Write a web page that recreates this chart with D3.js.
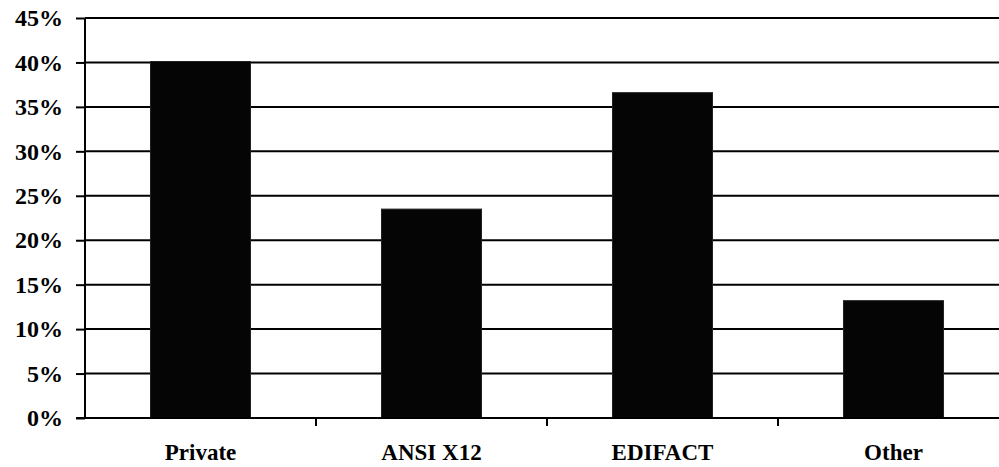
<!DOCTYPE html>
<html>
<head>
<meta charset="utf-8">
<script src="https://cdn.jsdelivr.net/npm/d3@7"></script>
<style>
  body { margin: 0; background: #fff; }
  svg { display: block; }
  text { font-family: "Liberation Serif", "DejaVu Serif", serif; font-weight: bold; fill: #000; }
</style>
</head>
<body>
<svg></svg>
<script>
let categories = ["Private", "ANSI X12", "EDIFACT", "Other"];
let shares = [40.1, 23.5, 36.6, 13.2];
let yTicks = [0, 5, 10, 15, 20, 25, 30, 35, 40, 45];

let width = 999;
let height = 467;
let plotLeft = 85;
let plotTop = 18;
let plotBottom = 418;

let svg = d3.select("svg").attr("width", width).attr("height", height);

let xScale = d3.scaleBand()
    .domain(categories)
    .range([plotLeft, plotLeft + 924])
    .paddingInner(0.567)
    .paddingOuter(0.2835);

let yScale = d3.scaleLinear()
    .domain([0, 45])
    .range([plotBottom, plotTop]);

// gridlines
svg.append("g")
    .selectAll("line")
    .data(yTicks.slice(1))
    .enter()
    .append("line")
    .attr("x1", plotLeft)
    .attr("x2", width)
    .attr("y1", d => yScale(d))
    .attr("y2", d => yScale(d))
    .attr("stroke", "#000")
    .attr("stroke-width", 2);

// bars
svg.append("g")
    .selectAll("rect")
    .data(shares)
    .enter()
    .append("rect")
    .attr("x", (d, i) => xScale(categories[i]))
    .attr("y", d => yScale(d))
    .attr("width", xScale.bandwidth())
    .attr("height", d => plotBottom - yScale(d))
    .attr("fill", "#050505")
    .attr("stroke", "#222")
    .attr("stroke-width", 1);

// y axis
let yAxis = d3.axisLeft(yScale)
    .tickValues(yTicks)
    .tickFormat(d => d + "%")
    .tickSize(9)
    .tickPadding(13);

let gy = svg.append("g")
    .attr("transform", "translate(" + plotLeft + ",0)")
    .call(yAxis);
gy.selectAll("path, line").attr("stroke", "#000").attr("stroke-width", 2);
gy.select(".domain").attr("d", "M0," + plotBottom + "V" + plotTop);
gy.selectAll("text").style("font-size", "24px").attr("font-family", null);

// x axis
let boundaries = [1, 2, 3].map(i => plotLeft + i * xScale.step());
let gx = svg.append("g");
gx.append("line")
    .attr("x1", plotLeft - 9).attr("x2", width)
    .attr("y1", plotBottom).attr("y2", plotBottom)
    .attr("stroke", "#000").attr("stroke-width", 2);
gx.selectAll(".tk")
    .data(boundaries)
    .enter()
    .append("line")
    .attr("x1", d => d).attr("x2", d => d)
    .attr("y1", plotBottom).attr("y2", plotBottom + 8)
    .attr("stroke", "#000").attr("stroke-width", 2);
gx.selectAll("text")
    .data(categories)
    .enter()
    .append("text")
    .attr("x", d => xScale(d) + xScale.bandwidth() / 2)
    .attr("y", 460)
    .attr("text-anchor", "middle")
    .style("font-size", "23px")
    .text(d => d);
</script>
</body>
</html>
